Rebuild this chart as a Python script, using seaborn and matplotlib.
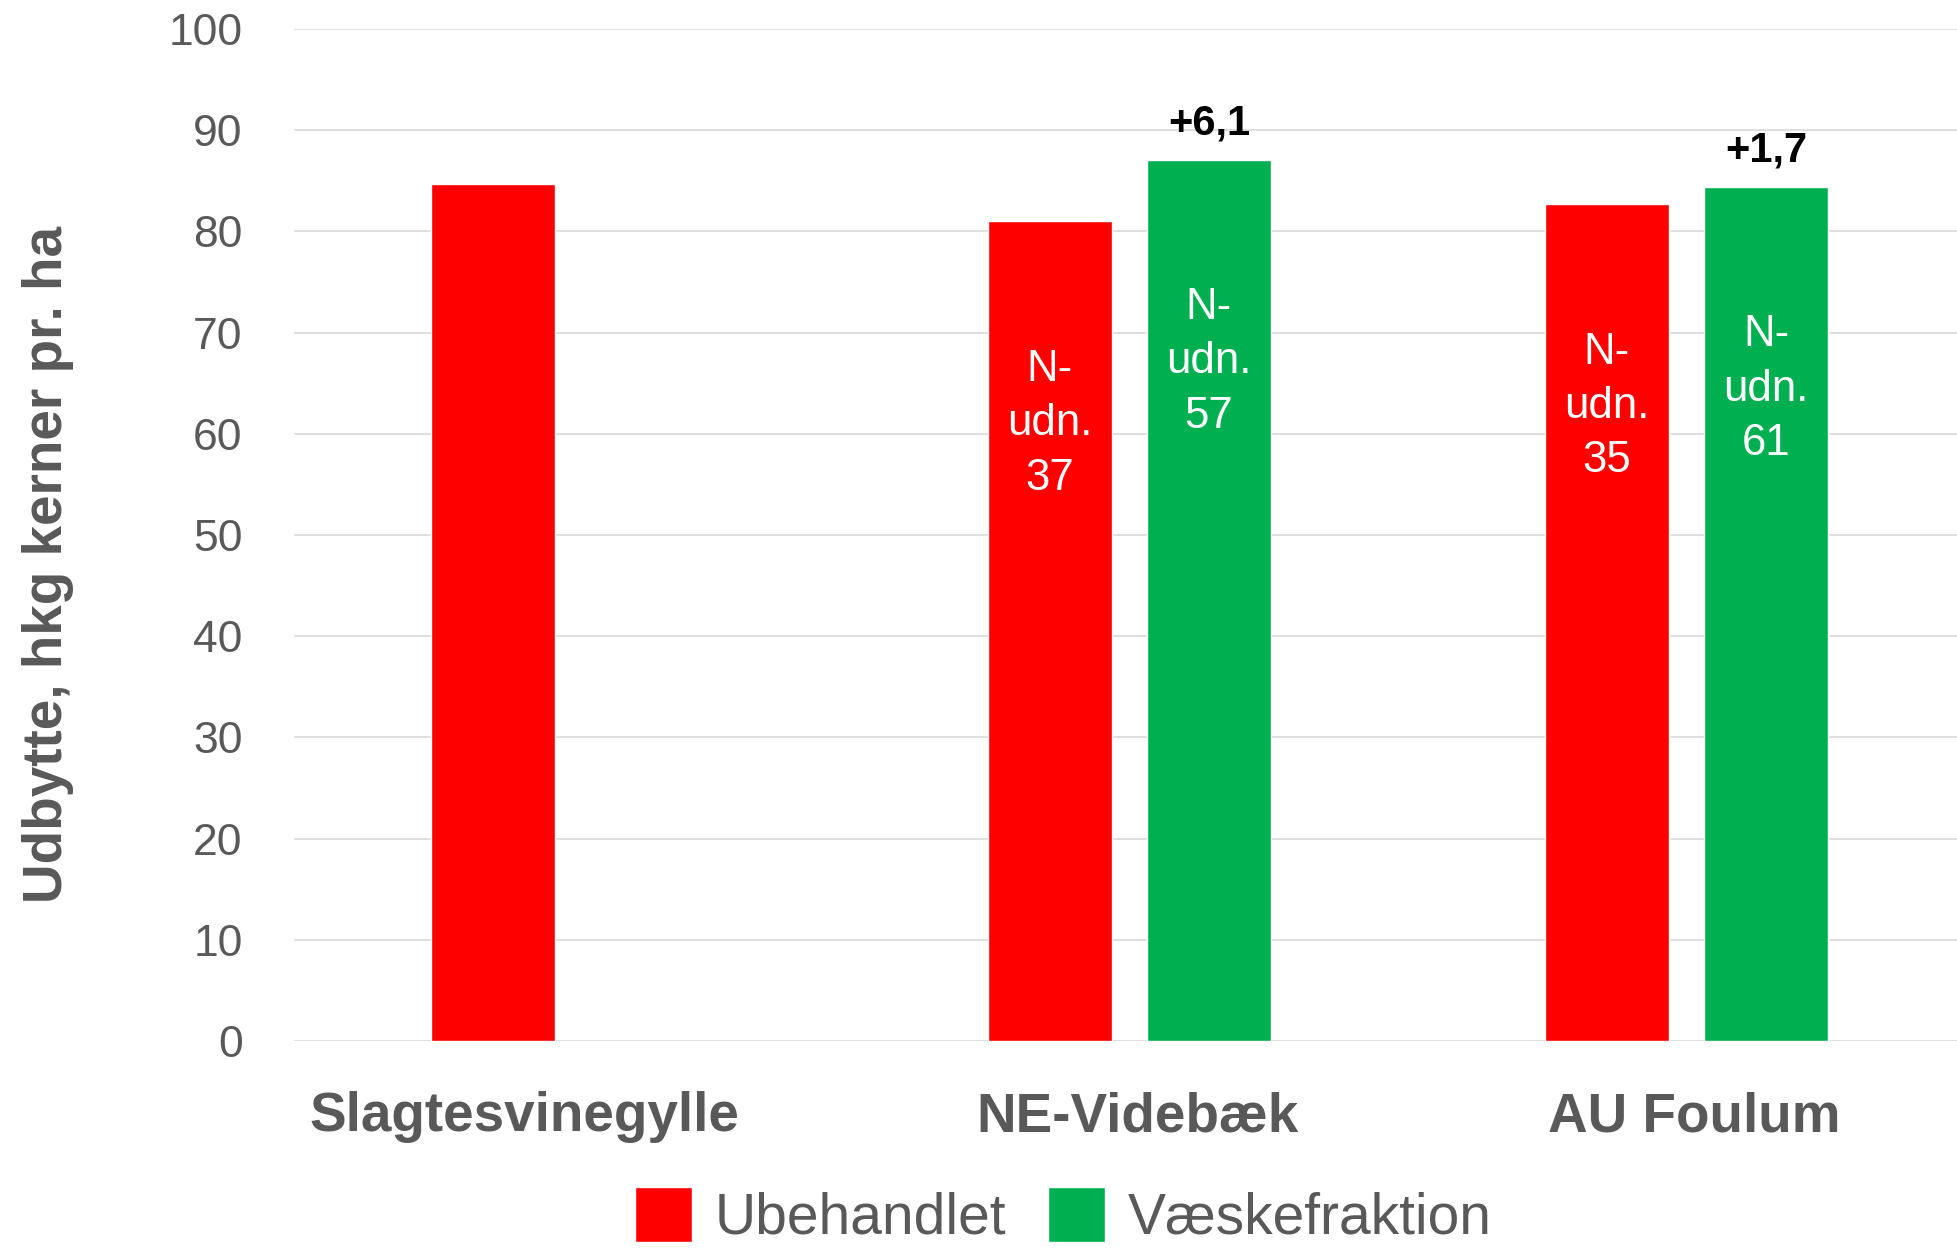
import matplotlib
matplotlib.use("Agg")
import matplotlib.pyplot as plt
import matplotlib.transforms as mtransforms
import numpy as np
import pandas as pd
import seaborn as sns

# Chart data
categories = ["Slagtesvinegylle", "NE-Videbæk", "AU Foulum"]
treatments = ["Ubehandlet", "Væskefraktion"]
yield_untreated = [84.7, 81.0, 82.7]
yield_liquid = [np.nan, 87.1, 84.4]
n_label_untreated = ["", "N-\nudn.\n37", "N-\nudn.\n35"]
n_label_liquid = ["", "N-\nudn.\n57", "N-\nudn.\n61"]
gain_labels = ["", "+6,1", "+1,7"]

colors = {"Ubehandlet": "#FF0000", "Væskefraktion": "#00B050"}
grey = "#595959"

df = pd.DataFrame({
    "kategori": categories * 2,
    "behandling": [treatments[0]] * 3 + [treatments[1]] * 3,
    "udbytte": yield_untreated + yield_liquid,
})

sns.set_style("white")
plt.rcParams["font.family"] = ["Liberation Sans", "DejaVu Sans"]

fig = plt.figure(figsize=(19.57, 12.49), dpi=100)
ax = fig.add_axes([0.1502, 0.1665, 0.8539, 0.8103])

sns.barplot(data=df, x="kategori", y="udbytte", hue="behandling",
            order=categories, hue_order=treatments, palette=colors,
            width=0.571, gap=0.216, saturation=1, legend=True, ax=ax)

ax.set_ylim(0, 100)
ax.set_xlim(-0.5, 2.5)
ax.set_yticks(range(0, 101, 10))
ax.yaxis.grid(True, color="#D9D9D9", linewidth=1.2)
ax.set_axisbelow(True)
for s in ax.spines.values():
    s.set_visible(False)

ax.tick_params(axis="y", length=0, pad=37, labelsize=32, labelcolor=grey)
ax.tick_params(axis="x", length=0, pad=36, labelsize=39.5, labelcolor=grey)
# Excel nudged the first category label to the left
shifts = [-48, 8, 8]
for lab, dx in zip(ax.get_xticklabels(), shifts):
    lab.set_fontweight("bold")
    lab.set_transform(lab.get_transform() +
                      mtransforms.ScaledTranslation(dx / 100, 0, fig.dpi_scale_trans))

ax.set_xlabel("")
ax.set_ylabel("Udbytte, hkg kerner pr. ha", fontsize=39.5, fontweight="bold",
              color=grey, va="center")
ax.yaxis.set_label_coords(-0.147, 0.471)

# labels inside and above the bars
inner = {treatments[0]: n_label_untreated, treatments[1]: n_label_liquid}
for cont, tr in zip(ax.containers, treatments):
    for bar in cont:
        h = bar.get_height()
        if np.isnan(h):
            continue
        xc = bar.get_x() + bar.get_width() / 2
        i = int(round(xc))
        txt = inner[tr][i]
        if txt:
            ax.text(xc, h - 20, txt, ha="center", va="center", color="white",
                    fontsize=31.5, linespacing=1.42)
        if tr == treatments[1] and gain_labels[i]:
            ax.annotate(gain_labels[i], (xc, h), xytext=(0, 18),
                        textcoords="offset points", ha="center", va="baseline",
                        fontsize=30, fontweight="bold", color="black")

handles, labels = ax.get_legend_handles_labels()
ax.legend_.remove()
fig.legend(handles, labels, loc="center", bbox_to_anchor=(0.5434, 0.026),
           ncol=2, frameon=False, fontsize=41, labelcolor=grey,
           handlelength=1.0, handleheight=1.1, handletextpad=0.4,
           columnspacing=0.74, borderpad=0)

fig.savefig("out.png", dpi=100)
